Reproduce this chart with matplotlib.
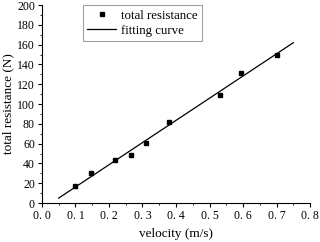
import numpy as np
import matplotlib.pyplot as plt
from matplotlib.ticker import MultipleLocator

plt.rcParams['font.family'] = ['Liberation Serif', 'DejaVu Serif']

# measured points
velocity = [0.10, 0.147, 0.218, 0.265, 0.31, 0.38, 0.53, 0.595, 0.70]
resistance = [17, 30, 43, 49, 61, 82, 109, 131, 150]

# fitting curve end points
fit_x = [0.05, 0.75]
fit_y = [5, 162]

x_ticks = [0.0, 0.1, 0.2, 0.3, 0.4, 0.5, 0.6, 0.7, 0.8]
x_tick_labels = ['0. 0', '0. 1', '0. 2', '0. 3', '0. 4', '0. 5', '0. 6', '0. 7', '0. 8']
y_ticks = [0, 20, 40, 60, 80, 100, 120, 140, 160, 180, 200]

fig = plt.figure(figsize=(3.2, 2.42), dpi=100)
ax = fig.add_axes([0.131, 0.161, 0.838, 0.818])

ax.plot(velocity, resistance, 's', color='black', markersize=3.5, label='total resistance')
ax.plot(fit_x, fit_y, '-', color='black', linewidth=0.9, label='fitting curve')

ax.set_xlim(0, 0.8)
ax.set_ylim(0, 200)
ax.set_xticks(x_ticks)
ax.set_xticklabels(x_tick_labels)
ax.set_yticks(y_ticks)
ax.xaxis.set_minor_locator(MultipleLocator(0.05))
ax.yaxis.set_minor_locator(MultipleLocator(10))

ax.spines['top'].set_visible(False)
ax.spines['right'].set_visible(False)
ax.tick_params(which='major', direction='out', length=3, width=0.8, labelsize=8.5, pad=2)
ax.tick_params(which='minor', direction='out', length=1.5, width=0.6)

ax.set_xlabel('velocity (m/s)', fontsize=9.5, labelpad=4)
ax.set_ylabel('total resistance (N)', fontsize=9.5, labelpad=2)

leg = ax.legend(loc='upper left', bbox_to_anchor=(0.153, 1.0), fontsize=9.3,
                frameon=True, fancybox=False, edgecolor='#888888',
                handlelength=2.2, handletextpad=0.4, borderpad=0.35,
                labelspacing=0.25, borderaxespad=0)
leg.get_frame().set_linewidth(0.8)

plt.savefig('out.png', dpi=100)
